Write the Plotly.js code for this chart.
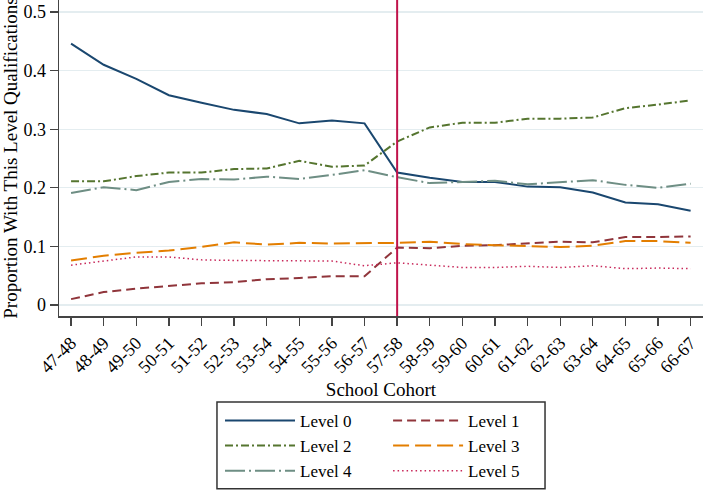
<!DOCTYPE html>
<html>
<head>
<meta charset="utf-8">
<script src="https://cdn.plot.ly/plotly-3.0.1.min.js"></script>
<style>html,body{margin:0;padding:0;background:#fff;}#chart{width:703px;height:490px;}</style>
</head>
<body>
<div id="chart"></div>
<script>
const cohorts = ['47-48','48-49','49-50','50-51','51-52','52-53','53-54','54-55','55-56','56-57',
                 '57-58','58-59','59-60','60-61','61-62','62-63','63-64','64-65','65-66','66-67'];
const cutoffCohort = '57-58';
const level0 = [0.446,0.410,0.386,0.358,0.345,0.333,0.326,0.310,0.315,0.310,0.226,0.217,0.210,0.210,0.202,0.201,0.192,0.175,0.172,0.161];
const level1 = [0.010,0.022,0.028,0.032,0.037,0.039,0.044,0.046,0.049,0.049,0.098,0.097,0.101,0.102,0.105,0.108,0.107,0.116,0.116,0.117];
const level2 = [0.211,0.211,0.220,0.226,0.226,0.232,0.233,0.246,0.236,0.238,0.279,0.303,0.311,0.311,0.318,0.318,0.320,0.336,0.342,0.349];
const level3 = [0.076,0.084,0.089,0.093,0.099,0.107,0.103,0.106,0.105,0.105,0.106,0.108,0.104,0.102,0.101,0.099,0.101,0.109,0.109,0.106];
const level4 = [0.191,0.201,0.196,0.210,0.215,0.214,0.219,0.215,0.222,0.230,0.218,0.208,0.210,0.212,0.206,0.210,0.213,0.205,0.200,0.207];
const level5 = [0.068,0.075,0.082,0.082,0.077,0.076,0.076,0.076,0.075,0.067,0.072,0.068,0.064,0.064,0.066,0.064,0.067,0.062,0.063,0.062];
const seriesNames = ['Level 0','Level 1','Level 2','Level 3','Level 4','Level 5'];

const FONT = '"Liberation Serif", "Times New Roman", serif';
const styles = [
  {color:'#1a476f', dash:'solid', width:2, legend:'legend'},
  {color:'#90353b', dash:'9px,5px', width:2, legend:'legend2'},
  {color:'#55752f', dash:'8px,3px,2px,3px', width:2, legend:'legend'},
  {color:'#e37e00', dash:'16px,6px', width:2, legend:'legend2'},
  {color:'#6e8e84', dash:'20px,4px,2px,4px', width:2, legend:'legend'},
  {color:'#c8285a', dash:'1.5px,3px', width:1.5, legend:'legend2'}
];
const values = [level0, level1, level2, level3, level4, level5];
const traces = values.map((v,i)=>({
  type:'scatter', mode:'lines', x:cohorts, y:v, name:seriesNames[i],
  legend:styles[i].legend,
  line:{color:styles[i].color, dash:styles[i].dash, width:styles[i].width},
  hoverinfo:'skip'
}));

const legendCommon = {
  orientation:'v', xanchor:'left', y:-0.275, yanchor:'top',
  itemwidth:70, borderwidth:0, bgcolor:'rgba(0,0,0,0)',
  font:{family:FONT, size:17, color:'#000'}, traceorder:'normal'
};

const layout = {
  width:703, height:490,
  margin:{l:59, r:0, t:0, b:174},
  paper_bgcolor:'#fff', plot_bgcolor:'#fff',
  font:{family:FONT, size:18, color:'#000'},
  showlegend:true,
  xaxis:{
    type:'category', range:[-0.37, 19.38],
    tickangle:-45, ticks:'outside', ticklen:8, tickwidth:1.3, tickcolor:'#444',
    showline:true, linecolor:'#444', linewidth:1.5, showgrid:false, zeroline:false,
    tickfont:{family:FONT, size:18, color:'#000'},
    title:{text:'School Cohort', font:{family:FONT, size:19, color:'#000'}, standoff:6},
    fixedrange:true
  },
  yaxis:{
    range:[-0.0188, 0.5205], dtick:0.1, tick0:0,
    ticks:'outside', ticklen:8, tickwidth:1.3, tickcolor:'#444',
    showline:true, linecolor:'#444', linewidth:1.5,
    showgrid:true, gridcolor:'#e4edf0', gridwidth:1.3, zeroline:false,
    tickfont:{family:FONT, size:18, color:'#000'},
    title:{text:'Proportion With This Level Qualifications', font:{family:FONT, size:19, color:'#000'}, standoff:4},
    fixedrange:true
  },
  legend:Object.assign({}, legendCommon, {x:0.25}),
  legend2:Object.assign({}, legendCommon, {x:0.511}),
  shapes:[
    {type:'line', xref:'x', yref:'paper', x0:cutoffCohort, x1:cutoffCohort, y0:0, y1:1,
     line:{color:'#c0134b', width:2}},
    {type:'rect', xref:'paper', yref:'paper', x0:0.2453, x1:0.7547, y0:-0.547, y1:-0.272,
     line:{color:'#333', width:1.5}, fillcolor:'rgba(0,0,0,0)', layer:'above'}
  ]
};
Plotly.newPlot('chart', traces, layout, {staticPlot:true, displayModeBar:false});
</script>
</body>
</html>
